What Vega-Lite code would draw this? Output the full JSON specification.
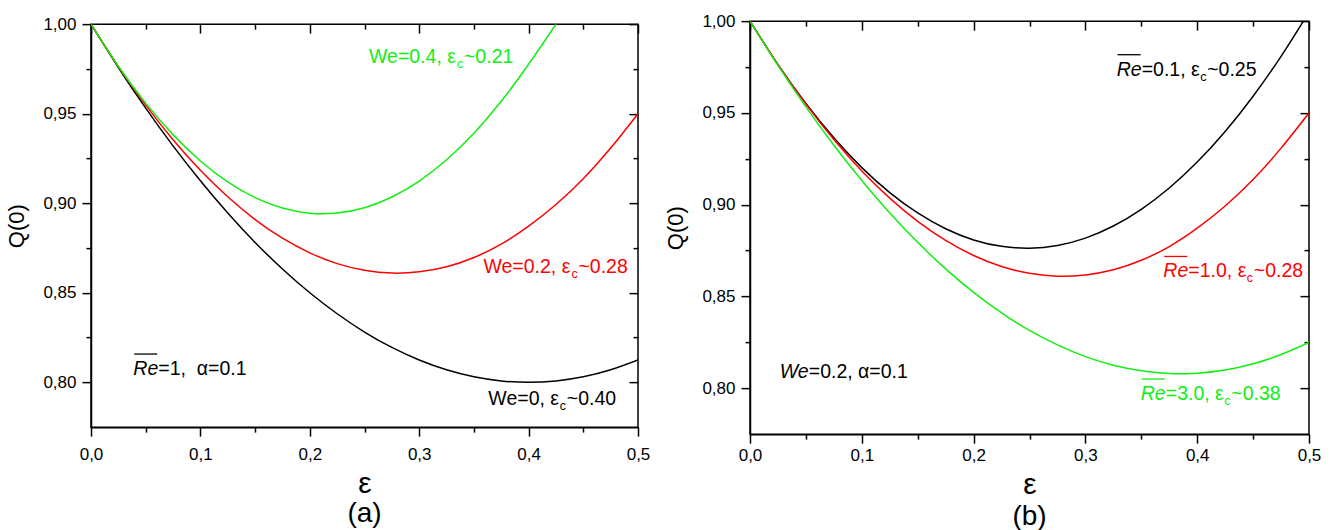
{
  "$schema": "https://vega.github.io/schema/vega-lite/v6.json",
  "background": "white",
  "padding": {"left": 5, "top": 11, "right": 5, "bottom": 0},
  "spacing": 13,
  "center": true,
  "config": {
    "font": "Liberation Sans",
    "view": {"stroke": "black", "strokeWidth": 1.5},
    "axis": {"domainColor": "black", "domainWidth": 1.5, "tickColor": "black", "tickWidth": 1.5, "labelColor": "black", "titleColor": "black", "labelFont": "Liberation Sans", "titleFont": "Liberation Sans", "titleFontWeight": "normal", "grid": false, "labelFontSize": 17, "labelFlush": false, "labelOverlap": false, "labelBound": false},
    "title": {"font": "Liberation Sans", "fontWeight": "normal", "fontSize": 28, "color": "black"}
  },
  "datasets": {
    "curvesA": [
      {"eps": 0, "Q": 1, "series": "We=0"}, {"eps": 0.025, "Q": 0.9758, "series": "We=0"}, {"eps": 0.05, "Q": 0.9531, "series": "We=0"}, {"eps": 0.075, "Q": 0.932, "series": "We=0"}, {"eps": 0.1, "Q": 0.9125, "series": "We=0"}, {"eps": 0.125, "Q": 0.8945, "series": "We=0"}, {"eps": 0.15, "Q": 0.8781, "series": "We=0"}, {"eps": 0.175, "Q": 0.8633, "series": "We=0"}, {"eps": 0.2, "Q": 0.85, "series": "We=0"}, {"eps": 0.225, "Q": 0.8383, "series": "We=0"}, {"eps": 0.25, "Q": 0.8281, "series": "We=0"}, {"eps": 0.275, "Q": 0.8195, "series": "We=0"}, {"eps": 0.3, "Q": 0.8125, "series": "We=0"}, {"eps": 0.325, "Q": 0.807, "series": "We=0"}, {"eps": 0.35, "Q": 0.8031, "series": "We=0"}, {"eps": 0.375, "Q": 0.8008, "series": "We=0"}, {"eps": 0.4, "Q": 0.8, "series": "We=0"}, {"eps": 0.425, "Q": 0.8008, "series": "We=0"}, {"eps": 0.45, "Q": 0.8031, "series": "We=0"}, {"eps": 0.475, "Q": 0.807, "series": "We=0"}, {"eps": 0.5, "Q": 0.8125, "series": "We=0"},
      {"eps": 0, "Q": 1, "series": "We=0.2"}, {"eps": 0.025, "Q": 0.9763, "series": "We=0.2"}, {"eps": 0.05, "Q": 0.9548, "series": "We=0.2"}, {"eps": 0.075, "Q": 0.9355, "series": "We=0.2"}, {"eps": 0.1, "Q": 0.9184, "series": "We=0.2"}, {"eps": 0.125, "Q": 0.9036, "series": "We=0.2"}, {"eps": 0.15, "Q": 0.8909, "series": "We=0.2"}, {"eps": 0.175, "Q": 0.8805, "series": "We=0.2"}, {"eps": 0.2, "Q": 0.8723, "series": "We=0.2"}, {"eps": 0.225, "Q": 0.8663, "series": "We=0.2"}, {"eps": 0.25, "Q": 0.8626, "series": "We=0.2"}, {"eps": 0.275, "Q": 0.861, "series": "We=0.2"}, {"eps": 0.3, "Q": 0.8617, "series": "We=0.2"}, {"eps": 0.325, "Q": 0.8645, "series": "We=0.2"}, {"eps": 0.35, "Q": 0.8697, "series": "We=0.2"}, {"eps": 0.375, "Q": 0.8772, "series": "We=0.2"}, {"eps": 0.4, "Q": 0.8872, "series": "We=0.2"}, {"eps": 0.425, "Q": 0.8993, "series": "We=0.2"}, {"eps": 0.45, "Q": 0.9137, "series": "We=0.2"}, {"eps": 0.475, "Q": 0.9308, "series": "We=0.2"}, {"eps": 0.5, "Q": 0.95, "series": "We=0.2"},
      {"eps": 0, "Q": 1, "series": "We=0.4"}, {"eps": 0.025, "Q": 0.9765, "series": "We=0.4"}, {"eps": 0.05, "Q": 0.9559, "series": "We=0.4"}, {"eps": 0.075, "Q": 0.9383, "series": "We=0.4"}, {"eps": 0.1, "Q": 0.9236, "series": "We=0.4"}, {"eps": 0.125, "Q": 0.9119, "series": "We=0.4"}, {"eps": 0.15, "Q": 0.9031, "series": "We=0.4"}, {"eps": 0.175, "Q": 0.8973, "series": "We=0.4"}, {"eps": 0.2, "Q": 0.8944, "series": "We=0.4"}, {"eps": 0.225, "Q": 0.8945, "series": "We=0.4"}, {"eps": 0.25, "Q": 0.8975, "series": "We=0.4"}, {"eps": 0.275, "Q": 0.9035, "series": "We=0.4"}, {"eps": 0.3, "Q": 0.9124, "series": "We=0.4"}, {"eps": 0.325, "Q": 0.9243, "series": "We=0.4"}, {"eps": 0.35, "Q": 0.9391, "series": "We=0.4"}, {"eps": 0.375, "Q": 0.9569, "series": "We=0.4"}, {"eps": 0.4, "Q": 0.9776, "series": "We=0.4"}, {"eps": 0.425, "Q": 1.0, "series": "We=0.4"}
    ],
    "curvesB": [
      {"eps": 0, "Q": 1, "series": "Re=0.1"}, {"eps": 0.025, "Q": 0.9763, "series": "Re=0.1"}, {"eps": 0.05, "Q": 0.9551, "series": "Re=0.1"}, {"eps": 0.075, "Q": 0.9364, "series": "Re=0.1"}, {"eps": 0.1, "Q": 0.9202, "series": "Re=0.1"}, {"eps": 0.125, "Q": 0.9066, "series": "Re=0.1"}, {"eps": 0.15, "Q": 0.8955, "series": "Re=0.1"}, {"eps": 0.175, "Q": 0.8869, "series": "Re=0.1"}, {"eps": 0.2, "Q": 0.8808, "series": "Re=0.1"}, {"eps": 0.225, "Q": 0.8773, "series": "Re=0.1"}, {"eps": 0.25, "Q": 0.8763, "series": "Re=0.1"}, {"eps": 0.275, "Q": 0.8778, "series": "Re=0.1"}, {"eps": 0.3, "Q": 0.8818, "series": "Re=0.1"}, {"eps": 0.325, "Q": 0.8884, "series": "Re=0.1"}, {"eps": 0.35, "Q": 0.8975, "series": "Re=0.1"}, {"eps": 0.375, "Q": 0.9091, "series": "Re=0.1"}, {"eps": 0.4, "Q": 0.9232, "series": "Re=0.1"}, {"eps": 0.425, "Q": 0.9399, "series": "Re=0.1"}, {"eps": 0.45, "Q": 0.9591, "series": "Re=0.1"}, {"eps": 0.475, "Q": 0.9808, "series": "Re=0.1"}, {"eps": 0.495, "Q": 1.0, "series": "Re=0.1"},
      {"eps": 0, "Q": 1, "series": "Re=1.0"}, {"eps": 0.025, "Q": 0.9763, "series": "Re=1.0"}, {"eps": 0.05, "Q": 0.9548, "series": "Re=1.0"}, {"eps": 0.075, "Q": 0.9355, "series": "Re=1.0"}, {"eps": 0.1, "Q": 0.9184, "series": "Re=1.0"}, {"eps": 0.125, "Q": 0.9036, "series": "Re=1.0"}, {"eps": 0.15, "Q": 0.8909, "series": "Re=1.0"}, {"eps": 0.175, "Q": 0.8805, "series": "Re=1.0"}, {"eps": 0.2, "Q": 0.8723, "series": "Re=1.0"}, {"eps": 0.225, "Q": 0.8663, "series": "Re=1.0"}, {"eps": 0.25, "Q": 0.8626, "series": "Re=1.0"}, {"eps": 0.275, "Q": 0.861, "series": "Re=1.0"}, {"eps": 0.3, "Q": 0.8617, "series": "Re=1.0"}, {"eps": 0.325, "Q": 0.8645, "series": "Re=1.0"}, {"eps": 0.35, "Q": 0.8697, "series": "Re=1.0"}, {"eps": 0.375, "Q": 0.8772, "series": "Re=1.0"}, {"eps": 0.4, "Q": 0.8872, "series": "Re=1.0"}, {"eps": 0.425, "Q": 0.8993, "series": "Re=1.0"}, {"eps": 0.45, "Q": 0.9137, "series": "Re=1.0"}, {"eps": 0.475, "Q": 0.9308, "series": "Re=1.0"}, {"eps": 0.5, "Q": 0.95, "series": "Re=1.0"},
      {"eps": 0, "Q": 1, "series": "Re=3.0"}, {"eps": 0.025, "Q": 0.9759, "series": "Re=3.0"}, {"eps": 0.05, "Q": 0.9533, "series": "Re=3.0"}, {"eps": 0.075, "Q": 0.9324, "series": "Re=3.0"}, {"eps": 0.1, "Q": 0.9132, "series": "Re=3.0"}, {"eps": 0.125, "Q": 0.8955, "series": "Re=3.0"}, {"eps": 0.15, "Q": 0.8795, "series": "Re=3.0"}, {"eps": 0.175, "Q": 0.865, "series": "Re=3.0"}, {"eps": 0.2, "Q": 0.8522, "series": "Re=3.0"}, {"eps": 0.225, "Q": 0.8411, "series": "Re=3.0"}, {"eps": 0.25, "Q": 0.8315, "series": "Re=3.0"}, {"eps": 0.275, "Q": 0.8236, "series": "Re=3.0"}, {"eps": 0.3, "Q": 0.8172, "series": "Re=3.0"}, {"eps": 0.325, "Q": 0.8125, "series": "Re=3.0"}, {"eps": 0.35, "Q": 0.8095, "series": "Re=3.0"}, {"eps": 0.375, "Q": 0.808, "series": "Re=3.0"}, {"eps": 0.4, "Q": 0.8082, "series": "Re=3.0"}, {"eps": 0.425, "Q": 0.8099, "series": "Re=3.0"}, {"eps": 0.45, "Q": 0.8133, "series": "Re=3.0"}, {"eps": 0.475, "Q": 0.8184, "series": "Re=3.0"}, {"eps": 0.5, "Q": 0.825, "series": "Re=3.0"}
    ]
  },
  "resolve": {"scale": {"color": "independent"}},
  "hconcat": [
    {
      "width": 547,
      "height": 403,
      "title": {"text": "(a)", "orient": "bottom", "offset": 2},
      "resolve": {"axis": {"x": "independent", "y": "independent"}},
      "layer": [
        {
          "data": {"name": "curvesA"},
          "mark": {"type": "line", "strokeWidth": 1.5, "clip": true, "interpolate": "natural"},
          "encoding": {
            "x": {"field": "eps", "type": "quantitative", "scale": {"domain": [0, 0.5], "nice": false, "zero": false},
              "axis": {"orient": "bottom", "title": "ε", "titleFontSize": 30, "titlePadding": 6, "labelPadding": 10, "values": [0, 0.05, 0.1, 0.15, 0.2, 0.25, 0.3, 0.35, 0.4, 0.45, 0.5],
                "labelExpr": "abs(datum.value*10 - round(datum.value*10)) < 0.001 ? replace(format(datum.value, '.1f'), '.', ',') : ''",
                "tickSize": {"condition": {"test": "abs(datum.value*10 - round(datum.value*10)) < 0.001", "value": 9}, "value": 5}}},
            "y": {"field": "Q", "type": "quantitative", "scale": {"domain": [0.775, 1.0], "nice": false, "zero": false},
              "axis": {"orient": "left", "title": "Q(0)", "titleFontSize": 22, "titlePadding": 14, "labelPadding": 6, "values": [0.8, 0.825, 0.85, 0.875, 0.9, 0.925, 0.95, 0.975, 1.0],
                "labelExpr": "abs(datum.value*20 - round(datum.value*20)) < 0.001 ? replace(format(datum.value, '.2f'), '.', ',') : ''",
                "tickSize": {"condition": {"test": "abs(datum.value*20 - round(datum.value*20)) < 0.001", "value": 9}, "value": 5}}},
            "color": {"field": "series", "type": "nominal", "scale": {"domain": ["We=0", "We=0.2", "We=0.4"], "range": ["#000000", "#ff0000", "#11ee11"]}, "legend": null}
          }
        },
        {
          "data": {"name": "curvesA"},
          "mark": {"type": "point", "opacity": 0},
          "encoding": {
            "x": {"field": "eps", "type": "quantitative", "axis": {"orient": "top", "title": null, "labels": false, "domain": false, "values": [0, 0.05, 0.1, 0.15, 0.2, 0.25, 0.3, 0.35, 0.4, 0.45, 0.5],
              "tickSize": {"condition": {"test": "abs(datum.value*10 - round(datum.value*10)) < 0.001", "value": -9}, "value": -5}}},
            "y": {"field": "Q", "type": "quantitative", "axis": {"orient": "right", "title": null, "labels": false, "domain": false, "values": [0.8, 0.825, 0.85, 0.875, 0.9, 0.925, 0.95, 0.975, 1.0],
              "tickSize": {"condition": {"test": "abs(datum.value*20 - round(datum.value*20)) < 0.001", "value": -9}, "value": -5}}}
          }
        },
        {"data": {"values": [{}]}, "mark": {"type": "text", "align": "left", "baseline": "alphabetic", "fontSize": 19.5, "color": "#11ee11"}, "encoding": {"x": {"datum": 0.2541, "type": "quantitative", "axis": null}, "y": {"datum": 0.9781, "type": "quantitative", "axis": null}, "text": {"value": "We=0.4, ε"}}},
        {"data": {"values": [{}]}, "mark": {"type": "text", "align": "left", "baseline": "alphabetic", "fontSize": 12.5, "dx": 88, "dy": 5, "color": "#11ee11"}, "encoding": {"x": {"datum": 0.2541, "type": "quantitative", "axis": null}, "y": {"datum": 0.9781, "type": "quantitative", "axis": null}, "text": {"value": "c"}}},
        {"data": {"values": [{}]}, "mark": {"type": "text", "align": "left", "baseline": "alphabetic", "fontSize": 19.5, "dx": 95, "color": "#11ee11"}, "encoding": {"x": {"datum": 0.2541, "type": "quantitative", "axis": null}, "y": {"datum": 0.9781, "type": "quantitative", "axis": null}, "text": {"value": "~0.21"}}},
        {"data": {"values": [{}]}, "mark": {"type": "text", "align": "left", "baseline": "alphabetic", "fontSize": 19.5, "color": "#ff0000"}, "encoding": {"x": {"datum": 0.3587, "type": "quantitative", "axis": null}, "y": {"datum": 0.8609, "type": "quantitative", "axis": null}, "text": {"value": "We=0.2, ε"}}},
        {"data": {"values": [{}]}, "mark": {"type": "text", "align": "left", "baseline": "alphabetic", "fontSize": 12.5, "dx": 88, "dy": 5, "color": "#ff0000"}, "encoding": {"x": {"datum": 0.3587, "type": "quantitative", "axis": null}, "y": {"datum": 0.8609, "type": "quantitative", "axis": null}, "text": {"value": "c"}}},
        {"data": {"values": [{}]}, "mark": {"type": "text", "align": "left", "baseline": "alphabetic", "fontSize": 19.5, "dx": 95, "color": "#ff0000"}, "encoding": {"x": {"datum": 0.3587, "type": "quantitative", "axis": null}, "y": {"datum": 0.8609, "type": "quantitative", "axis": null}, "text": {"value": "~0.28"}}},
        {"data": {"values": [{}]}, "mark": {"type": "text", "align": "left", "baseline": "alphabetic", "fontSize": 19.5, "color": "#000000"}, "encoding": {"x": {"datum": 0.3632, "type": "quantitative", "axis": null}, "y": {"datum": 0.7874, "type": "quantitative", "axis": null}, "text": {"value": "We=0, ε"}}},
        {"data": {"values": [{}]}, "mark": {"type": "text", "align": "left", "baseline": "alphabetic", "fontSize": 12.5, "dx": 71.5, "dy": 5, "color": "#000000"}, "encoding": {"x": {"datum": 0.3632, "type": "quantitative", "axis": null}, "y": {"datum": 0.7874, "type": "quantitative", "axis": null}, "text": {"value": "c"}}},
        {"data": {"values": [{}]}, "mark": {"type": "text", "align": "left", "baseline": "alphabetic", "fontSize": 19.5, "dx": 78.5, "color": "#000000"}, "encoding": {"x": {"datum": 0.3632, "type": "quantitative", "axis": null}, "y": {"datum": 0.7874, "type": "quantitative", "axis": null}, "text": {"value": "~0.40"}}},
        {"data": {"values": [{}]}, "mark": {"type": "text", "align": "left", "baseline": "alphabetic", "fontSize": 19.5, "fontStyle": "italic", "color": "#000000"}, "encoding": {"x": {"datum": 0.0387, "type": "quantitative", "axis": null}, "y": {"datum": 0.8041, "type": "quantitative", "axis": null}, "text": {"value": "Re"}}},
        {"data": {"values": [{}]}, "mark": {"type": "text", "align": "left", "baseline": "alphabetic", "fontSize": 19.5, "dx": 25, "color": "#000000"}, "encoding": {"x": {"datum": 0.0387, "type": "quantitative", "axis": null}, "y": {"datum": 0.8041, "type": "quantitative", "axis": null}, "text": {"value": "=1,\u00a0 α=0.1"}}},
        {"data": {"values": [{}]}, "mark": {"type": "rule", "color": "#000000", "strokeWidth": 1.3}, "encoding": {"x": {"datum": 0.0395, "type": "quantitative", "axis": null}, "x2": {"datum": 0.0605}, "y": {"datum": 0.8158, "type": "quantitative", "axis": null}}}
      ]
    },
    {
      "width": 559,
      "height": 413,
      "title": {"text": "(b)", "orient": "bottom", "offset": 4},
      "resolve": {"axis": {"x": "independent", "y": "independent"}},
      "layer": [
        {
          "data": {"name": "curvesB"},
          "mark": {"type": "line", "strokeWidth": 1.5, "clip": true, "interpolate": "natural"},
          "encoding": {
            "x": {"field": "eps", "type": "quantitative", "scale": {"domain": [0, 0.5], "nice": false, "zero": false},
              "axis": {"orient": "bottom", "title": "ε", "titleFontSize": 30, "titlePadding": 6, "labelPadding": 4, "values": [0, 0.05, 0.1, 0.15, 0.2, 0.25, 0.3, 0.35, 0.4, 0.45, 0.5],
                "labelExpr": "abs(datum.value*10 - round(datum.value*10)) < 0.001 ? replace(format(datum.value, '.1f'), '.', ',') : ''",
                "tickSize": {"condition": {"test": "abs(datum.value*10 - round(datum.value*10)) < 0.001", "value": 9}, "value": 5}}},
            "y": {"field": "Q", "type": "quantitative", "scale": {"domain": [0.775, 1.0], "nice": false, "zero": false},
              "axis": {"orient": "left", "title": "Q(0)", "titleFontSize": 22, "titlePadding": 14, "labelPadding": 6, "values": [0.8, 0.825, 0.85, 0.875, 0.9, 0.925, 0.95, 0.975, 1.0],
                "labelExpr": "abs(datum.value*20 - round(datum.value*20)) < 0.001 ? replace(format(datum.value, '.2f'), '.', ',') : ''",
                "tickSize": {"condition": {"test": "abs(datum.value*20 - round(datum.value*20)) < 0.001", "value": 9}, "value": 5}}},
            "color": {"field": "series", "type": "nominal", "scale": {"domain": ["Re=0.1", "Re=1.0", "Re=3.0"], "range": ["#000000", "#ff0000", "#11ee11"]}, "legend": null}
          }
        },
        {
          "data": {"name": "curvesB"},
          "mark": {"type": "point", "opacity": 0},
          "encoding": {
            "x": {"field": "eps", "type": "quantitative", "axis": {"orient": "top", "title": null, "labels": false, "domain": false, "values": [0, 0.05, 0.1, 0.15, 0.2, 0.25, 0.3, 0.35, 0.4, 0.45, 0.5],
              "tickSize": {"condition": {"test": "abs(datum.value*10 - round(datum.value*10)) < 0.001", "value": -9}, "value": -5}}},
            "y": {"field": "Q", "type": "quantitative", "axis": {"orient": "right", "title": null, "labels": false, "domain": false, "values": [0.8, 0.825, 0.85, 0.875, 0.9, 0.925, 0.95, 0.975, 1.0],
              "tickSize": {"condition": {"test": "abs(datum.value*20 - round(datum.value*20)) < 0.001", "value": -9}, "value": -5}}}
          }
        },
        {"data": {"values": [{}]}, "mark": {"type": "text", "align": "left", "baseline": "alphabetic", "fontSize": 19.5, "fontStyle": "italic", "color": "#000000"}, "encoding": {"x": {"datum": 0.328, "type": "quantitative", "axis": null}, "y": {"datum": 0.9703, "type": "quantitative", "axis": null}, "text": {"value": "Re"}}},
        {"data": {"values": [{}]}, "mark": {"type": "text", "align": "left", "baseline": "alphabetic", "fontSize": 19.5, "dx": 25, "color": "#000000"}, "encoding": {"x": {"datum": 0.328, "type": "quantitative", "axis": null}, "y": {"datum": 0.9703, "type": "quantitative", "axis": null}, "text": {"value": "=0.1, ε"}}},
        {"data": {"values": [{}]}, "mark": {"type": "text", "align": "left", "baseline": "alphabetic", "fontSize": 12.5, "dx": 83.5, "dy": 5, "color": "#000000"}, "encoding": {"x": {"datum": 0.328, "type": "quantitative", "axis": null}, "y": {"datum": 0.9703, "type": "quantitative", "axis": null}, "text": {"value": "c"}}},
        {"data": {"values": [{}]}, "mark": {"type": "text", "align": "left", "baseline": "alphabetic", "fontSize": 19.5, "dx": 90.5, "color": "#000000"}, "encoding": {"x": {"datum": 0.328, "type": "quantitative", "axis": null}, "y": {"datum": 0.9703, "type": "quantitative", "axis": null}, "text": {"value": "~0.25"}}},
        {"data": {"values": [{}]}, "mark": {"type": "rule", "color": "#000000", "strokeWidth": 1.3}, "encoding": {"x": {"datum": 0.3288, "type": "quantitative", "axis": null}, "x2": {"datum": 0.3494}, "y": {"datum": 0.9817, "type": "quantitative", "axis": null}}},
        {"data": {"values": [{}]}, "mark": {"type": "text", "align": "left", "baseline": "alphabetic", "fontSize": 19.5, "fontStyle": "italic", "color": "#ff0000"}, "encoding": {"x": {"datum": 0.3697, "type": "quantitative", "axis": null}, "y": {"datum": 0.8604, "type": "quantitative", "axis": null}, "text": {"value": "Re"}}},
        {"data": {"values": [{}]}, "mark": {"type": "text", "align": "left", "baseline": "alphabetic", "fontSize": 19.5, "dx": 25, "color": "#ff0000"}, "encoding": {"x": {"datum": 0.3697, "type": "quantitative", "axis": null}, "y": {"datum": 0.8604, "type": "quantitative", "axis": null}, "text": {"value": "=1.0, ε"}}},
        {"data": {"values": [{}]}, "mark": {"type": "text", "align": "left", "baseline": "alphabetic", "fontSize": 12.5, "dx": 83.5, "dy": 5, "color": "#ff0000"}, "encoding": {"x": {"datum": 0.3697, "type": "quantitative", "axis": null}, "y": {"datum": 0.8604, "type": "quantitative", "axis": null}, "text": {"value": "c"}}},
        {"data": {"values": [{}]}, "mark": {"type": "text", "align": "left", "baseline": "alphabetic", "fontSize": 19.5, "dx": 90.5, "color": "#ff0000"}, "encoding": {"x": {"datum": 0.3697, "type": "quantitative", "axis": null}, "y": {"datum": 0.8604, "type": "quantitative", "axis": null}, "text": {"value": "~0.28"}}},
        {"data": {"values": [{}]}, "mark": {"type": "rule", "color": "#ff0000", "strokeWidth": 1.3}, "encoding": {"x": {"datum": 0.3705, "type": "quantitative", "axis": null}, "x2": {"datum": 0.3911}, "y": {"datum": 0.8718, "type": "quantitative", "axis": null}}},
        {"data": {"values": [{}]}, "mark": {"type": "text", "align": "left", "baseline": "alphabetic", "fontSize": 19.5, "fontStyle": "italic", "color": "#11ee11"}, "encoding": {"x": {"datum": 0.3495, "type": "quantitative", "axis": null}, "y": {"datum": 0.7936, "type": "quantitative", "axis": null}, "text": {"value": "Re"}}},
        {"data": {"values": [{}]}, "mark": {"type": "text", "align": "left", "baseline": "alphabetic", "fontSize": 19.5, "dx": 25, "color": "#11ee11"}, "encoding": {"x": {"datum": 0.3495, "type": "quantitative", "axis": null}, "y": {"datum": 0.7936, "type": "quantitative", "axis": null}, "text": {"value": "=3.0, ε"}}},
        {"data": {"values": [{}]}, "mark": {"type": "text", "align": "left", "baseline": "alphabetic", "fontSize": 12.5, "dx": 83.5, "dy": 5, "color": "#11ee11"}, "encoding": {"x": {"datum": 0.3495, "type": "quantitative", "axis": null}, "y": {"datum": 0.7936, "type": "quantitative", "axis": null}, "text": {"value": "c"}}},
        {"data": {"values": [{}]}, "mark": {"type": "text", "align": "left", "baseline": "alphabetic", "fontSize": 19.5, "dx": 90.5, "color": "#11ee11"}, "encoding": {"x": {"datum": 0.3495, "type": "quantitative", "axis": null}, "y": {"datum": 0.7936, "type": "quantitative", "axis": null}, "text": {"value": "~0.38"}}},
        {"data": {"values": [{}]}, "mark": {"type": "rule", "color": "#11ee11", "strokeWidth": 1.3}, "encoding": {"x": {"datum": 0.3503, "type": "quantitative", "axis": null}, "x2": {"datum": 0.3709}, "y": {"datum": 0.805, "type": "quantitative", "axis": null}}},
        {"data": {"values": [{}]}, "mark": {"type": "text", "align": "left", "baseline": "alphabetic", "fontSize": 19.5, "fontStyle": "italic", "color": "#000000"}, "encoding": {"x": {"datum": 0.0266, "type": "quantitative", "axis": null}, "y": {"datum": 0.8058, "type": "quantitative", "axis": null}, "text": {"value": "We"}}},
        {"data": {"values": [{}]}, "mark": {"type": "text", "align": "left", "baseline": "alphabetic", "fontSize": 19.5, "dx": 29, "color": "#000000"}, "encoding": {"x": {"datum": 0.0266, "type": "quantitative", "axis": null}, "y": {"datum": 0.8058, "type": "quantitative", "axis": null}, "text": {"value": "=0.2, α=0.1"}}}
      ]
    }
  ]
}
